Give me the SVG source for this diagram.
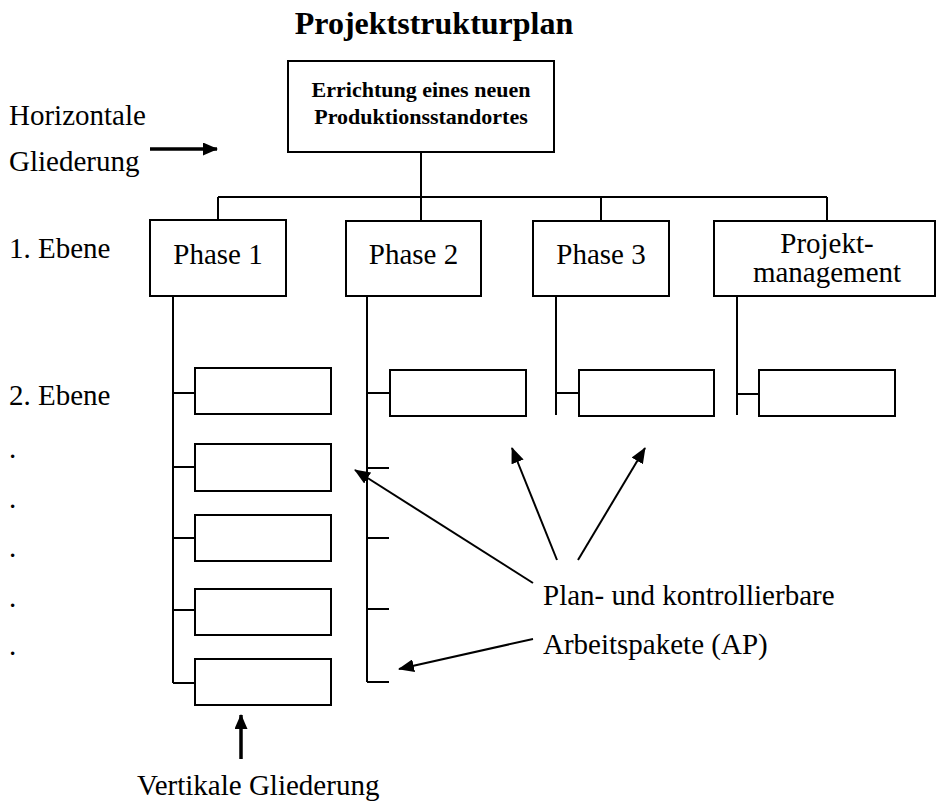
<svg xmlns="http://www.w3.org/2000/svg" width="937" height="808" viewBox="0 0 937 808" font-family="'Liberation Serif', 'Times New Roman', Times, serif">
  <style>
    text { font-family: "Liberation Serif", "Times New Roman", Times, serif; font-weight: normal; fill: #000; }
    .lbl { font-size: 29px; }
    .mid { text-anchor: middle; }
    .bold { font-weight: bold; }
    .box { fill: #fff; stroke: #000; stroke-width: 2; }
    .ln { fill: none; stroke: #000; stroke-width: 2; }
    .thin { fill: none; stroke: #000; stroke-width: 2; marker-end: url(#head); }
    .thick { fill: none; stroke: #000; stroke-width: 3.5; marker-end: url(#bighead); }
  </style>
  <defs>
    <marker id="head" markerUnits="userSpaceOnUse" viewBox="0 0 16 13" refX="15" refY="6.5" markerWidth="16" markerHeight="13" orient="auto">
      <path d="M0,0 L16,6.5 L0,13 Z" fill="#000"/>
    </marker>
    <marker id="bighead" markerUnits="userSpaceOnUse" viewBox="0 0 15 13" refX="14" refY="6.5" markerWidth="15" markerHeight="13" orient="auto">
      <path d="M0,0 L15,6.5 L0,13 Z" fill="#000"/>
    </marker>
  </defs>

  <rect width="937" height="808" fill="#fff"/>

  <text class="bold mid" x="434" y="34" font-size="32">Projektstrukturplan</text>

  <!-- side labels -->
  <g id="side-labels">
    <text class="lbl" x="9" y="125">Horizontale</text>
    <text class="lbl" x="9" y="171">Gliederung</text>
    <text class="lbl" x="9" y="258">1. Ebene</text>
    <text class="lbl" x="9" y="405">2. Ebene</text>
    <text class="lbl" x="9" y="458">.</text>
    <text class="lbl" x="9" y="508">.</text>
    <text class="lbl" x="9" y="557">.</text>
    <text class="lbl" x="9" y="607">.</text>
    <text class="lbl" x="9" y="655">.</text>
  </g>

  <!-- connectors -->
  <g id="connectors">
    <!-- root to first level -->
    <path class="ln" d="M421,152 V221"/>
    <path class="ln" d="M218,197 H827"/>
    <path class="ln" d="M218,197 V220"/>
    <path class="ln" d="M601,197 V221"/>
    <path class="ln" d="M827,197 V221"/>
    <!-- Phase 1 spine and stubs -->
    <path class="ln" d="M173,296 V683"/>
    <path class="ln" d="M173,393 H195 M173,467 H195 M173,538 H195 M173,610 H195 M173,683 H195"/>
    <!-- Phase 2 spine and ticks -->
    <path class="ln" d="M367,296 V682"/>
    <path class="ln" d="M367,393 H390 M367,468 H389 M367,538 H389 M367,609 H389 M367,682 H389"/>
    <!-- Phase 3 -->
    <path class="ln" d="M556,296 V415 M556,393 H579"/>
    <!-- Projektmanagement -->
    <path class="ln" d="M737,296 V415 M737,394 H759"/>
  </g>

  <!-- top node -->
  <g id="root">
    <rect class="box" x="288" y="61" width="266" height="91"/>
    <text class="bold mid" x="421" y="97" font-size="22">Errichtung eines neuen</text>
    <text class="bold mid" x="421" y="124" font-size="22">Produktionsstandortes</text>
  </g>

  <!-- first level -->
  <g id="phase1">
    <rect class="box" x="150" y="220" width="136" height="76"/>
    <text class="lbl mid" x="218" y="264">Phase 1</text>
  </g>
  <g id="phase2">
    <rect class="box" x="346" y="221" width="135" height="75"/>
    <text class="lbl mid" x="413.5" y="264">Phase 2</text>
  </g>
  <g id="phase3">
    <rect class="box" x="533" y="221" width="136" height="75"/>
    <text class="lbl mid" x="601" y="264">Phase 3</text>
  </g>
  <g id="projektmanagement">
    <rect class="box" x="714" y="221" width="221" height="75"/>
    <text class="lbl mid" x="827" y="253">Projekt-</text>
    <text class="lbl mid" x="827" y="282">management</text>
  </g>

  <!-- second level work packages -->
  <g id="ap-1-1"><rect class="box" x="195" y="368" width="136" height="46"/></g>
  <g id="ap-1-2"><rect class="box" x="195" y="444" width="136" height="47"/></g>
  <g id="ap-1-3"><rect class="box" x="195" y="515" width="136" height="46"/></g>
  <g id="ap-1-4"><rect class="box" x="195" y="589" width="136" height="46"/></g>
  <g id="ap-1-5"><rect class="box" x="195" y="659" width="136" height="46"/></g>
  <g id="ap-2-1"><rect class="box" x="390" y="370" width="136" height="46"/></g>
  <g id="ap-3-1"><rect class="box" x="579" y="370" width="135" height="46"/></g>
  <g id="ap-pm-1"><rect class="box" x="759" y="370" width="136" height="46"/></g>

  <!-- annotation arrows -->
  <g id="annotations">
    <path class="thick" d="M150,149 H217"/>
    <path class="thick" d="M241,759 V715"/>
    <path class="thin" d="M533,583 L355,470"/>
    <path class="thin" d="M557,560 L512,448"/>
    <path class="thin" d="M578,560 L645,448"/>
    <path class="thin" d="M533,639 L399,669"/>
    <text class="lbl" x="543" y="605">Plan- und kontrollierbare</text>
    <text class="lbl" x="543" y="654">Arbeitspakete (AP)</text>
    <text class="lbl" x="137" y="795">Vertikale Gliederung</text>
  </g>
</svg>
